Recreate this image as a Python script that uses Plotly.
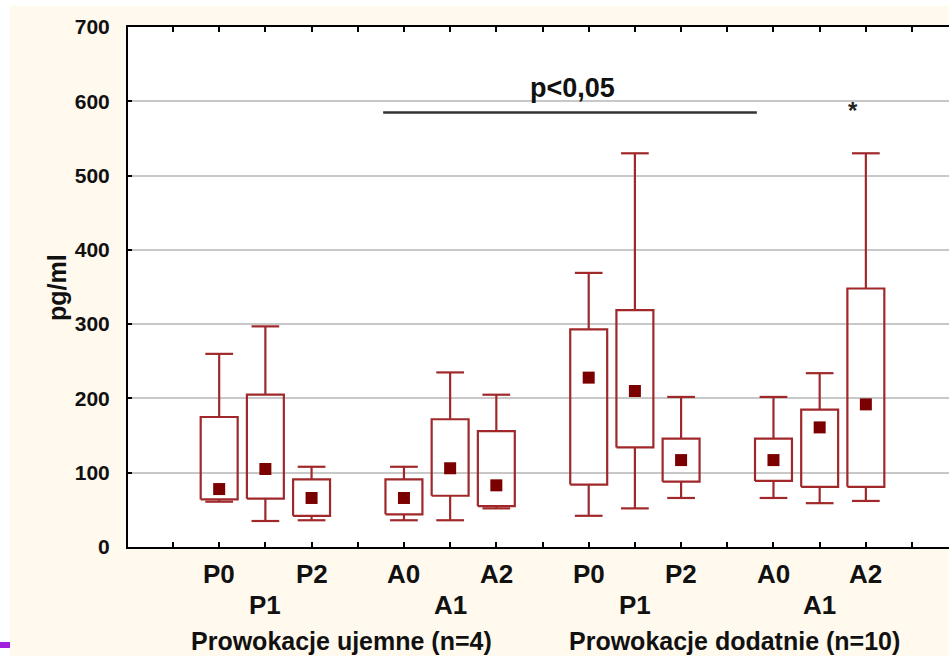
import plotly.graph_objects as go

# ---- data ----
positions = [2, 3, 4, 6, 7, 8, 10, 11, 12, 14, 15, 16]
labels = ["P0", "P1", "P2", "A0", "A1", "A2", "P0", "P1", "P2", "A0", "A1", "A2"]
minimum = [61, 35, 36, 36, 36, 52, 42, 52, 66, 66, 59, 62]
q1 = [64, 65, 42, 44, 69, 55, 84, 134, 88, 89, 81, 81]
median = [78, 105, 66, 66, 106, 83, 228, 210, 117, 117, 161, 192]
q3 = [175, 205, 91, 91, 172, 156, 293, 319, 146, 146, 185, 348]
maximum = [260, 297, 108, 108, 235, 205, 369, 530, 202, 202, 234, 530]
group_labels = ["Prowokacje ujemne (n=4)", "Prowokacje dodatnie (n=10)"]
group_pos = [4.64, 13.15]
y_ticks = [0, 100, 200, 300, 400, 500, 600, 700]
sig_text = "p<0,05"
sig_from, sig_to, sig_level = 5.55, 13.64, 585

BOX_HALF = 0.4
CAP_HALF = 0.3
LINE_COLOR = "#A0282B"
MED_COLOR = "#7B0000"
FONT = "Liberation Sans, Arial, sans-serif"

# build box outlines and whiskers through data coordinates
bx, by = [], []
for p, lo, a, b, hi in zip(positions, minimum, q1, q3, maximum):
    l, r = p - BOX_HALF, p + BOX_HALF
    bx += [l, r, r, l, l, None]
    by += [a, a, b, b, a, None]
    bx += [p, p, None, p - CAP_HALF, p + CAP_HALF, None]
    by += [b, hi, None, hi, hi, None]
    bx += [p, p, None, p - CAP_HALF, p + CAP_HALF, None]
    by += [a, lo, None, lo, lo, None]

fig = go.Figure()
fig.add_trace(go.Scatter(x=bx, y=by, mode="lines",
                         line=dict(color=LINE_COLOR, width=2.2),
                         hoverinfo="skip", showlegend=False))
fig.add_trace(go.Scatter(x=positions, y=median, mode="markers",
                         marker=dict(symbol="square", size=12, color=MED_COLOR),
                         showlegend=False))
fig.add_trace(go.Scatter(x=[sig_from, sig_to], y=[sig_level, sig_level], mode="lines",
                         line=dict(color="#333333", width=2.5),
                         hoverinfo="skip", showlegend=False))

fig.update_layout(
    width=949, height=656,
    margin=dict(l=128, r=0, t=27, b=109),
    paper_bgcolor="#FFF9EE",
    plot_bgcolor="white",
    font=dict(family=FONT, color="#111111"),
    showlegend=False,
)
fig.update_xaxes(range=[0.026, 17.8], tickvals=list(range(1, 18)), showticklabels=False,
                 ticks="inside", ticklen=5, tickwidth=1.5, tickcolor="black",
                 showline=True, linecolor="black", linewidth=2, mirror="ticks",
                 showgrid=False, zeroline=False)
fig.update_yaxes(range=[0, 700], tickvals=y_ticks,
                 ticks="inside", ticklen=4, tickwidth=1.5, tickcolor="black",
                 ticklabelstandoff=12,
                 tickfont=dict(family=FONT, size=21, weight="bold", color="#111111"),
                 showline=True, linecolor="black", linewidth=2, mirror=False,
                 showgrid=True, gridcolor="#C8C8C8", gridwidth=2, zeroline=False)

ann = []
for p, t in zip(positions, labels):
    row2 = t.endswith("1")
    ann.append(dict(x=p, xref="x", y=-0.112 if row2 else -0.052, yref="paper",
                    text=t, showarrow=False, yanchor="middle",
                    font=dict(family=FONT, size=26, weight="bold", color="#111111")))
for p, t in zip(group_pos, group_labels):
    ann.append(dict(x=p, xref="x", y=-0.180, yref="paper", text=t, showarrow=False,
                    yanchor="middle",
                    font=dict(family=FONT, size=25, weight="bold", color="#111111")))
ann.append(dict(x=9.65, xref="x", y=618, yref="y", text=sig_text, showarrow=False,
                yanchor="middle",
                font=dict(family=FONT, size=27, weight="bold", color="#111111")))
ann.append(dict(x=15.72, xref="x", y=588, yref="y", text="*", showarrow=False,
                yanchor="middle",
                font=dict(family=FONT, size=24, weight="bold", color="#222222")))
ann.append(dict(x=-0.106, xref="paper", y=0.5, yref="paper", text="pg/ml",
                textangle=-90, showarrow=False,
                font=dict(family=FONT, size=25, weight="bold", color="#111111")))
fig.update_layout(annotations=ann)

fig.update_layout(shapes=[
    dict(type="rect", xref="paper", yref="paper", x0=-0.2, x1=(10 - 128) / 821,
         y0=-0.3, y1=1.2, fillcolor="white", line_width=0, layer="below"),
    dict(type="rect", xref="paper", yref="paper", x0=-0.2, x1=1.1,
         y0=(547 - 6) / 520, y1=1.2, fillcolor="white", line_width=0, layer="below"),
    dict(type="rect", xref="paper", yref="paper", x0=-0.2, x1=(10 - 128) / 821,
         y0=(547 - 648) / 520, y1=(547 - 642) / 520, fillcolor="#A020E0",
         line_width=0, layer="below"),
])

fig.write_html("out.html", config={"displayModeBar": False},
               post_script="document.body.style.margin='0px';document.body.style.overflow='hidden';")
